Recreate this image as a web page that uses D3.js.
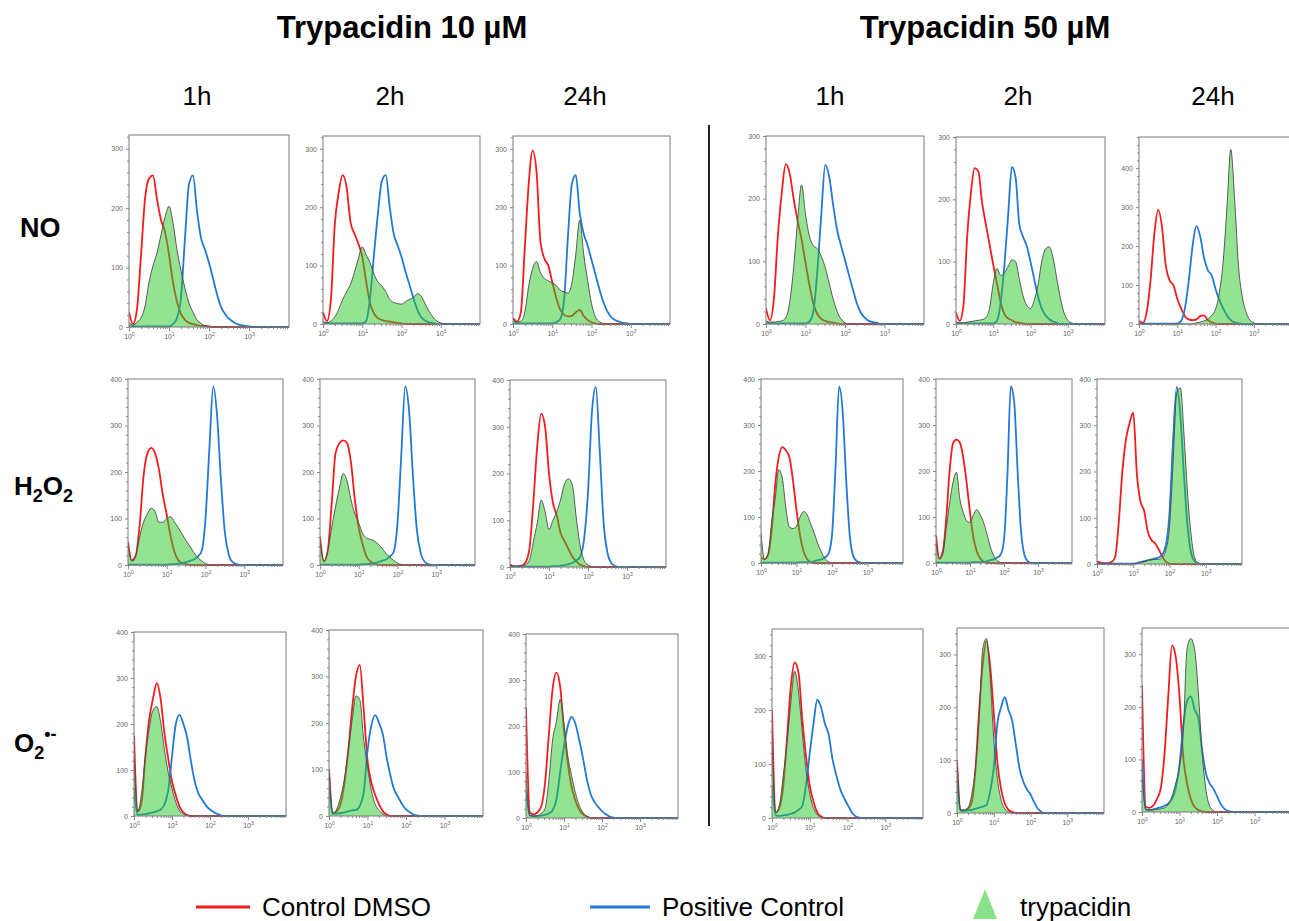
<!DOCTYPE html>
<html><head><meta charset="utf-8">
<script src="https://cdn.jsdelivr.net/npm/d3@7"></script>
<style>body{margin:0;background:#fff}svg{display:block;font-family:"Liberation Sans",Arial,sans-serif}</style>
</head><body><script>
// ---------- DATA ----------
const groups = ["Trypacidin 10 µM", "Trypacidin 50 µM"];
const times = ["1h", "2h", "24h", "1h", "2h", "24h"];
const rowsLabels = ["NO", "H2O2", "O2•-"];
const xTickExp = [0, 1, 2, 3];
// log10 positions of histogram bins
const binExp = [0,0.1,0.2,0.3,0.4,0.5,0.6,0.7,0.8,0.9,1.0,1.1,1.2,1.3,1.4,1.5,1.6,1.7,1.8,1.9,2.0,
                2.1,2.2,2.3,2.4,2.5,2.6,2.7,2.8,2.9,3.0,3.1,3.2,3.3,3.4,3.5,3.6,3.7,3.8,3.9,4.0];

// NO row (10µM 1h,2h,24h, 50µM 1h,2h,24h)
const dmsoNO = [
 [25,5,30,120,215,250,255,215,180,160,122,75,42,22,12,7,5,3,2,2,1],
 [20,5,40,170,225,255,235,175,155,138,115,72,35,18,10,7,5,4,3,2,1],
 [10,4,20,130,240,297,260,140,112,100,72,45,25,16,13,14,20,24,14,7,3,1],
 [25,6,40,140,210,255,240,200,165,135,98,62,32,16,8,5,3,2,1],
 [18,5,30,140,210,250,245,195,160,128,95,65,35,16,9,6,3,2,1],
 [8,3,30,110,230,293,250,150,112,100,65,40,20,12,10,12,20,22,10,4,1]
];
const posNO = [
 [1,1,1,1,1,1,1,1,1,1,1,5,15,50,150,240,255,195,150,130,108,82,55,34,22,14,9,5,3,2,1],
 [1,1,1,1,1,1,1,1,1,1,1,5,45,120,190,245,255,200,155,135,115,90,68,45,25,12,6,3,2],
 [1,1,1,1,1,1,1,1,1,1,1,3,8,40,150,240,255,190,155,135,110,85,60,38,22,12,7,4,2,1],
 [1,1,1,1,1,1,1,1,1,1,1,4,20,85,175,254,235,190,150,125,102,78,55,33,18,10,5,3,2],
 [1,1,1,1,1,1,1,1,1,1,1,5,35,95,175,252,235,160,140,125,100,72,45,25,14,8,4,2],
 [1,1,1,1,1,1,1,1,1,1,1,8,40,110,200,251,225,170,138,125,90,62,40,22,10,4,2]
];
const trypNO = [
 [8,3,8,15,35,75,103,125,155,185,203,175,130,95,65,40,25,12,6,2],
 [5,2,5,12,25,42,55,68,88,112,132,118,105,85,72,65,55,42,37,35,34,38,42,45,52,48,35,22,12,5,2],
 [8,3,5,20,65,95,107,88,78,74,70,66,58,55,53,70,120,178,120,75,35,12,4,1],
 [5,3,3,4,5,10,35,90,165,222,175,140,125,120,108,90,65,40,20,8,2],
 [4,2,2,3,4,5,6,7,10,25,65,89,78,82,92,103,100,72,45,30,25,38,62,100,120,124,108,75,42,18,6,2],
 [0,0,0,0,0,0,0,0,0,0,0,0,0,0,0,3,5,8,12,22,38,80,160,300,448,320,150,70,30,10,3]
];
// H2O2 row
const dmsoH2O2 = [
 [50,10,20,85,190,240,252,240,205,150,108,62,28,10,4,2],
 [60,8,30,130,240,262,268,262,220,140,80,45,18,8,3,1],
 [5,2,2,3,10,40,140,260,328,300,200,138,110,72,55,38,22,12,5,2],
 [12,8,18,70,170,230,252,245,230,180,115,60,25,8,2],
 [60,10,25,95,200,260,268,262,230,175,110,55,25,10,3],
 [5,3,2,2,4,15,90,200,270,305,327,195,135,115,70,52,45,32,16,5,1]
];
const posH2O2 = [
 [1,1,1,1,1,1,1,1,1,1,1,2,2,3,4,6,9,12,18,30,100,250,384,320,180,70,22,6,2],
 [1,1,1,1,1,1,1,1,1,1,1,2,2,3,4,6,9,12,18,28,90,240,384,330,190,75,25,7,2],
 [1,1,1,1,1,1,1,1,1,1,1,2,2,3,4,6,9,14,22,60,160,330,385,250,95,30,8,2],
 [1,1,1,1,1,1,1,1,1,1,1,2,2,2,2,4,6,8,12,20,60,210,384,330,180,60,15,4,1],
 [1,1,1,1,1,1,1,1,1,1,1,2,2,2,2,4,6,8,12,18,50,190,384,350,200,70,18,4],
 [1,1,1,1,1,1,1,1,1,1,1,2,4,6,8,10,12,14,20,40,110,270,383,320,190,80,22,5,1]
];
const trypH2O2 = [
 [45,8,20,60,92,110,122,115,92,92,100,104,92,80,66,52,40,27,16,9,3,1],
 [55,8,30,80,125,165,197,180,140,110,90,68,58,55,52,45,36,25,17,10,4,1],
 [3,1,1,2,5,15,55,95,143,118,80,100,118,145,178,189,175,105,45,14,4,1],
 [65,8,20,90,140,203,185,120,78,75,80,100,112,105,85,65,42,24,10,3],
 [45,8,20,75,130,175,197,140,110,92,88,105,116,105,88,62,35,15,5,1],
 [0,0,0,0,0,0,0,0,0,0,0,1,3,5,8,9,10,10,14,30,80,220,370,381,280,150,60,12,2]
];
// O2•- row
const dmsoO2 = [
 [175,10,30,130,210,255,289,255,180,125,75,45,20,8,2],
 [100,5,10,25,70,140,230,300,325,230,120,72,45,25,10,3],
 [240,12,8,12,25,75,180,280,316,285,190,120,68,38,18,8,3],
 [200,10,20,60,150,245,288,270,185,115,60,30,10,3],
 [100,5,5,8,20,80,190,280,325,280,190,95,45,18,6,2],
 [240,10,8,12,25,45,110,220,317,295,220,105,55,25,10,4,1]
];
const posO2 = [
 [60,3,3,4,6,8,10,14,25,55,130,200,220,200,170,118,75,48,35,22,14,8,4,1],
 [60,5,5,6,8,10,12,13,22,50,140,195,217,200,175,125,85,55,40,25,14,8,3,1],
 [60,5,4,4,5,7,10,17,40,100,155,200,220,205,170,130,85,52,35,24,15,8,3,1],
 [60,5,4,5,6,8,10,15,22,60,120,175,219,205,175,155,110,80,55,38,25,12,4,1],
 [60,5,4,5,6,8,10,12,15,40,85,170,200,219,195,175,130,85,60,45,35,20,8,2],
 [100,5,4,5,7,9,12,16,25,45,90,165,210,220,195,180,120,75,55,45,30,15,6,2]
];
const trypO2 = [
 [130,10,50,130,190,230,238,205,145,95,60,30,12,4,1],
 [100,6,15,40,80,140,205,258,250,165,105,55,25,12,4,1],
 [100,6,4,5,10,20,80,170,210,258,205,135,92,55,28,12,4,1],
 [150,10,25,80,140,215,272,235,160,90,45,18,6,1],
 [100,5,6,10,35,85,175,310,330,260,140,65,25,8,2],
 [70,4,4,4,5,6,8,15,30,55,85,150,310,330,311,230,115,45,12,3]
];

const dmso = [dmsoNO, dmsoH2O2, dmsoO2];
const pos = [posNO, posH2O2, posO2];
const tryp = [trypNO, trypH2O2, trypO2];
const legendLabels = ["Control DMSO", "Positive Control", "trypacidin"];

// ---------- LAYOUT (pixels) ----------
const layout = [
 {l:129,r:289,t:135,b:327,ymax:323},{l:323,r:480,t:136,b:324,ymax:322},{l:513,r:670,t:136,b:324,ymax:322},
 {l:766,r:924,t:136,b:324,ymax:300},{l:956,r:1105,t:137,b:324,ymax:300},{l:1139,r:1292,t:137,b:324,ymax:480},
 {l:128,r:283,t:379,b:565,ymax:400},{l:320,r:475,t:379,b:565,ymax:400},{l:510,r:666,t:380,b:567,ymax:400},
 {l:761,r:903,t:379,b:563,ymax:400},{l:936,r:1072,t:379,b:563,ymax:400},{l:1097,r:1242,t:379,b:564,ymax:400},
 {l:134,r:286,t:632,b:816,ymax:400},{l:329,r:483,t:630,b:816,ymax:400},{l:526,r:678,t:634,b:818,ymax:400},
 {l:772,r:923,t:629,b:818,ymax:350},{l:957,r:1104,t:628,b:813,ymax:350},{l:1142,r:1292,t:628,b:812,ymax:350}
];
const RED = "#f41c1c", BLUE = "#2279d6", GREENFILL = "rgb(40,200,40)", OUTLINE = "#4a4a4a";

const svg = d3.select("body").append("svg").attr("width",1289).attr("height",921);
svg.append("rect").attr("width",1289).attr("height",921).attr("fill","#fff");

layout.forEach((L,i)=>{
  const row = Math.floor(i/6), col = i%6;
  const x = d3.scaleLog().domain([1,1e4]).range([L.l,L.r]);
  const y = d3.scaleLinear().domain([0,L.ymax]).range([L.b,L.t]);
  const id = "clip"+i;
  svg.append("clipPath").attr("id",id).append("rect")
    .attr("x",L.l).attr("y",L.t-2).attr("width",L.r-L.l).attr("height",L.b-L.t+3);
  const g = svg.append("g").attr("clip-path",`url(#${id})`);
  const pts = a => binExp.map((u,k)=>[Math.pow(10,u), k<a.length?a[k]:0]);
  const line = d3.line().x(d=>x(d[0])).y(d=>y(d[1])).curve(d3.curveMonotoneX);
  const area = d3.area().x(d=>x(d[0])).y0(y(0)).y1(d=>y(d[1])).curve(d3.curveMonotoneX);
  g.append("path").attr("d",line(pts(dmso[row][col]))).attr("fill","none").attr("stroke",RED).attr("stroke-width",1.8);
  g.append("path").attr("d",line(pts(pos[row][col]))).attr("fill","none").attr("stroke",BLUE).attr("stroke-width",1.8);
  g.append("path").attr("d",area(pts(tryp[row][col]))).attr("fill",GREENFILL).attr("fill-opacity",0.5);
  g.append("path").attr("d",line(pts(tryp[row][col]))).attr("fill","none").attr("stroke",OUTLINE).attr("stroke-width",0.9);

  // box
  svg.append("rect").attr("x",L.l).attr("y",L.t).attr("width",L.r-L.l).attr("height",L.b-L.t)
    .attr("fill","none").attr("stroke","#7a7a7a").attr("stroke-width",1);

  // y axis
  const yMajor = d3.range(0, L.ymax+1, 100);
  const yMinor = d3.range(0, L.ymax+1, 20).filter(v=>v%100!==0);
  const ya = svg.append("g").attr("transform",`translate(${L.l},0)`)
    .call(d3.axisLeft(y).tickValues(yMajor).tickSize(3).tickPadding(3).tickFormat(d3.format("d")));
  svg.append("g").attr("transform",`translate(${L.l},0)`)
    .call(d3.axisLeft(y).tickValues(yMinor).tickSize(2).tickFormat(""));
  // x axis
  const xMajor = xTickExp.map(e=>Math.pow(10,e));
  const xMinor = [];
  xTickExp.forEach(e=>{ for(let m=2;m<=9;m++) xMinor.push(m*Math.pow(10,e)); });
  const xa = svg.append("g").attr("transform",`translate(0,${L.b})`)
    .call(d3.axisBottom(x).tickValues(xMajor).tickSize(4).tickPadding(4).tickFormat(""));
  svg.append("g").attr("transform",`translate(0,${L.b})`)
    .call(d3.axisBottom(x).tickValues(xMinor.filter(v=>v<=1e4)).tickSize(2).tickFormat(""));
  xa.selectAll(".tick").append("text").attr("y",12).attr("fill","#666").attr("font-size",7)
    .attr("text-anchor","middle")
    .each(function(d){
      const t = d3.select(this);
      t.append("tspan").text("10");
      t.append("tspan").attr("dy",-3).attr("font-size",5).text(Math.round(Math.log10(d)));
    });
  svg.selectAll(".domain").remove();
  ya.selectAll("text").attr("fill","#666").attr("font-size",7);
});
svg.selectAll(".tick line").attr("stroke","#888");

// titles
svg.append("text").attr("x",402).attr("y",38).attr("text-anchor","middle")
  .attr("font-size",31).attr("font-weight","bold").text(groups[0]);
svg.append("text").attr("x",985).attr("y",38).attr("text-anchor","middle")
  .attr("font-size",31).attr("font-weight","bold").text(groups[1]);
const colCenters = [197, 390, 585, 830, 1018, 1213];
times.forEach((t,i)=>{
  svg.append("text").attr("x",colCenters[i]).attr("y",105).attr("text-anchor","middle")
    .attr("font-size",26).text(t);
});
// row labels
svg.append("text").attr("x",20).attr("y",237).attr("font-size",27).attr("font-weight","bold").text(rowsLabels[0]);
const rl1 = svg.append("text").attr("x",14).attr("y",495).attr("font-size",26).attr("font-weight","bold");
rl1.append("tspan").text("H");
rl1.append("tspan").attr("dy",7).attr("font-size",18).text("2");
rl1.append("tspan").attr("dy",-7).text("O");
rl1.append("tspan").attr("dy",7).attr("font-size",18).text("2");
const rl2 = svg.append("text").attr("x",14).attr("y",752).attr("font-size",26).attr("font-weight","bold");
rl2.append("tspan").text("O");
rl2.append("tspan").attr("dy",7).attr("font-size",18).text("2");
rl2.append("tspan").attr("dy",-19).attr("font-size",18).text("•-");

// divider
svg.append("line").attr("x1",709).attr("x2",709).attr("y1",125).attr("y2",826)
  .attr("stroke","#222").attr("stroke-width",2);

// legend
svg.append("line").attr("x1",196).attr("x2",250).attr("y1",907).attr("y2",907).attr("stroke",RED).attr("stroke-width",3);
svg.append("text").attr("x",262).attr("y",916).attr("font-size",26).text(legendLabels[0]);
svg.append("line").attr("x1",590).attr("x2",650).attr("y1",907).attr("y2",907).attr("stroke",BLUE).attr("stroke-width",3);
svg.append("text").attr("x",662).attr("y",916).attr("font-size",26).text(legendLabels[1]);
svg.append("path").attr("d","M985,889 L997,919 L973,919 Z").attr("fill",GREENFILL).attr("fill-opacity",0.55);
svg.append("text").attr("x",1020).attr("y",916).attr("font-size",26).text(legendLabels[2]);
</script></body></html>
